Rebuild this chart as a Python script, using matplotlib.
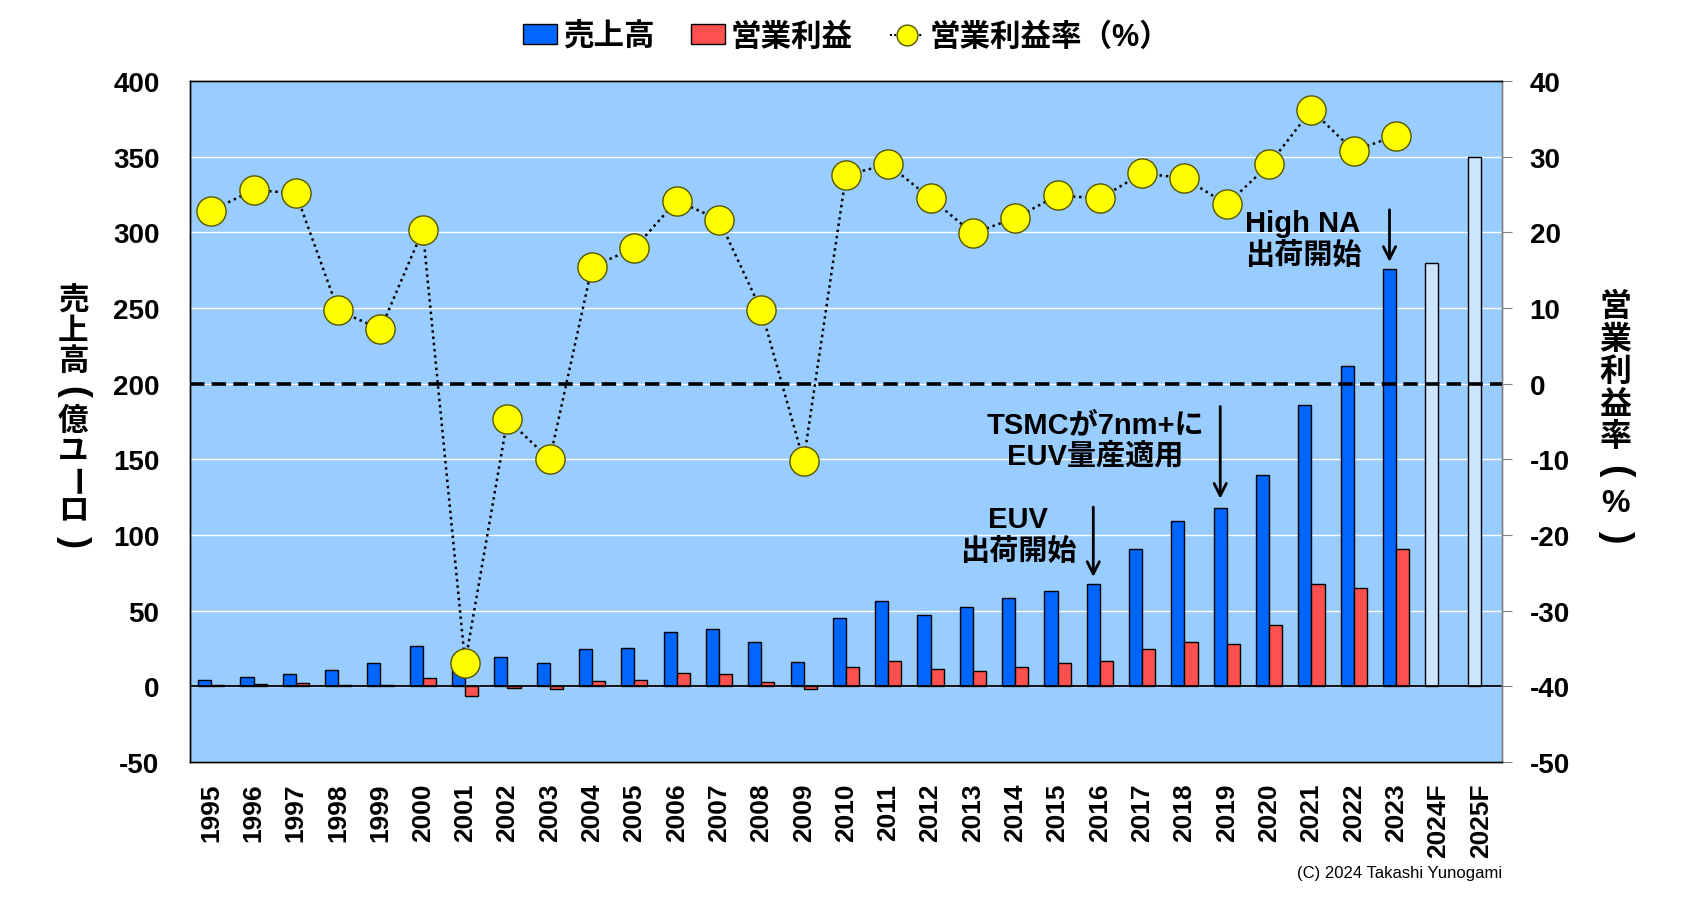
import matplotlib
matplotlib.use('Agg')
import matplotlib.pyplot as plt
import numpy as np
from matplotlib.patches import Patch
from matplotlib.lines import Line2D

# ---------------- data ----------------
years = ['1995', '1996', '1997', '1998', '1999', '2000', '2001', '2002', '2003', '2004',
         '2005', '2006', '2007', '2008', '2009', '2010', '2011', '2012', '2013', '2014',
         '2015', '2016', '2017', '2018', '2019', '2020', '2021', '2022', '2023',
         '2024F', '2025F']
sales = [4.0, 5.9, 7.9, 10.6, 15.2, 26.4, 17.0, 19.2, 15.2, 24.5,
         25.1, 35.7, 37.7, 29.1, 15.9, 44.9, 56.2, 46.9, 52.2, 58.2,
         62.8, 67.4, 90.8, 109.4, 118.2, 139.8, 186.1, 211.7, 275.6]
forecast_sales = [280.0, 350.0]
op_income = [0.9, 1.5, 2.0, 1.0, 1.1, 5.3, -6.2, -1.0, -1.5, 3.3,
             4.0, 8.6, 7.9, 2.6, -1.6, 12.6, 16.5, 11.2, 9.9, 12.6,
             15.2, 16.5, 24.5, 29.1, 27.8, 40.3, 67.4, 64.8, 90.8]
op_margin = [22.9, 25.6, 25.2, 9.7, 7.2, 20.3, -36.9, -4.7, -10.0, 15.5,
             17.9, 24.2, 21.7, 9.7, -10.2, 27.6, 29.0, 24.5, 19.9, 21.9,
             24.9, 24.5, 27.8, 27.2, 23.7, 29.0, 36.2, 30.8, 32.8]

legend_labels = ['売上高', '営業利益', '営業利益率（%）']
left_label = ['売', '上', '高', '(', '億', 'ユ', 'ー', 'ロ', ')']
right_label = ['営', '業', '利', '益', '率', '(', '%', ')']
notes = [('2023', 'High NA\n出荷開始', 315, 280.5, 25.8, 295.6),
         ('2019', 'TSMCが7nm+に\nEUV量産適用', 185, 124, 20.9, 162.8),
         ('2016', 'EUV\n出荷開始', 118.5, 72.3, 19.07, 100.0)]

# ---------------- style ----------------
FAM = ['Liberation Sans', 'Noto Sans CJK JP', 'DejaVu Sans']
plt.rcParams['font.family'] = FAM
plt.rcParams['font.weight'] = 'bold'
plt.rcParams['axes.unicode_minus'] = False

BLUE = '#0066FF'
RED = '#FF5050'
BG = '#99CCFF'
FC = '#CCE6FF'

fig = plt.figure(figsize=(16.97, 9.03), dpi=100)
ax = fig.add_axes([0.112, 0.155, 0.773, 0.754])
ax.set_facecolor(BG)

n = len(years)
x = np.arange(n)
w = 0.31
ns = len(sales)

ax.bar(x[:ns] - w / 2, sales, w, color=BLUE, edgecolor='black', lw=1, zorder=3)
ax.bar(x[ns:] - w / 2, forecast_sales, w, color=FC, edgecolor='black', lw=1, zorder=3)
ax.bar(x[:len(op_income)] + w / 2, op_income, w, color=RED, edgecolor='black', lw=1, zorder=3)
ax.axhline(0, color='black', lw=1.3, zorder=4)

ax.set_xlim(-0.5, n - 0.5)
ax.set_ylim(-50, 400)
ax.set_yticks(np.arange(-50, 401, 50))
ax.yaxis.grid(True, color='white', lw=1)
ax.set_axisbelow(True)
ax.set_xticks(x)
ax.set_xticklabels(years, rotation=90, fontsize=19, fontweight='bold')
ax.tick_params(axis='x', length=0, pad=15)
ax.tick_params(axis='y', length=0, pad=22, labelsize=20)
for lab in ax.get_yticklabels():
    lab.set_fontweight('bold')

ax2 = ax.twinx()
ax2.set_ylim(-50, 40)
ax2.set_yticks(np.arange(-50, 41, 10))
ax2.axhline(0, color='black', lw=2.6, ls=(0, (4, 2)), zorder=4)
ax2.plot(x[:len(op_margin)], op_margin, ls=(0, (1, 1.5)), color='black', lw=1.8,
         marker='o', ms=21, mfc='#FFFF00', mec='#555500', mew=1, zorder=5)
ax2.tick_params(axis='y', length=7, color='gray', pad=13, labelsize=20)
for lab in ax2.get_yticklabels():
    lab.set_fontweight('bold')

for a in (ax, ax2):
    for s in a.spines.values():
        s.set_color('black')
        s.set_linewidth(1)
    a.spines['right'].set_color('#808080')

# annotations
for yr, txt, y0, y1, tx, ty in notes:
    xi = years.index(yr) - w / 2
    ax.annotate('', xy=(xi, y1), xytext=(xi, y0),
                arrowprops=dict(arrowstyle='->', lw=2, color='black',
                                shrinkA=0, shrinkB=0, mutation_scale=22), zorder=6)
    ax.text(tx, ty, txt, ha='center', va='center', fontsize=21, fontweight='bold',
            linespacing=1.15, zorder=6)

# legend
handles = [Patch(facecolor=BLUE, edgecolor='black', lw=1),
           Patch(facecolor=RED, edgecolor='black', lw=1),
           Line2D([], [], color='black', ls=(0, (1, 1)), lw=1.5, marker='o', ms=15,
                  mfc='#FFFF00', mec='#555500')]
fig.legend(handles, legend_labels, loc='center', bbox_to_anchor=(0.499, 0.958), ncol=3,
           frameon=False, prop={'family': FAM, 'weight': 'bold', 'size': 22},
           handlelength=1.1, handleheight=0.6, handletextpad=0.2, columnspacing=1.2)

# vertical axis titles (stacked characters; brackets and long-vowel mark rotated)
H = 903.0
PAR = {'(', ')'}
for i, ch in enumerate(left_label):
    py = 302 + i * 30
    fig.text(0.043, 1 - py / H, ch, ha='center', va='center',
             fontsize=26 if ch in PAR else 22, fontweight='bold', family=FAM,
             rotation=-90 if ch in PAR or ch == 'ー' else 0)
for i, ch in enumerate(right_label):
    py = 308 + i * 32.6
    fig.text(0.952, 1 - py / H, ch, ha='center', va='center',
             fontsize=27 if ch in PAR else 23, fontweight='bold', family=FAM,
             rotation=-90 if ch in PAR else 0)

fig.text(0.885, 0.033, '(C) 2024 Takashi Yunogami', ha='right', va='center',
         fontsize=12, fontweight='normal', family=['Liberation Sans', 'DejaVu Sans'])

fig.savefig('out.png', dpi=100)
